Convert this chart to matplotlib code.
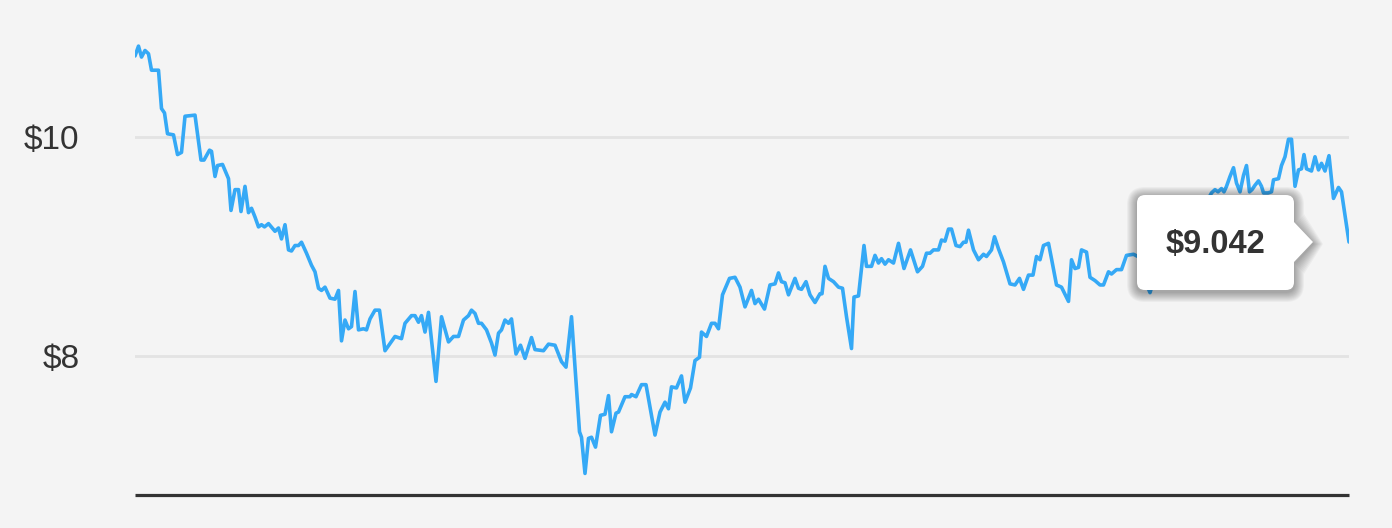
import matplotlib.pyplot as plt
from matplotlib.path import Path
from matplotlib.patches import PathPatch
from matplotlib.transforms import IdentityTransform

plt.rcParams['font.family'] = ['Liberation Sans', 'DejaVu Sans']

# trading day vs closing price
day = [0, 0.7, 1.3, 2.0, 2.7, 3.3, 4.7, 5.3, 5.9, 6.5, 7.7, 8.5, 9.3, 10.0, 12.0,
       13.2, 13.8, 14.9, 15.3, 16.0, 16.5, 17.5, 18.7, 19.2, 20.0, 20.7, 21.2, 22.0,
       22.7, 23.3, 24.0, 24.7, 25.3, 25.9, 26.7, 28.0, 28.7, 29.3, 30.0, 30.7, 31.3,
       32.0, 32.7, 33.3, 34.3, 35.3, 36.0, 36.7, 37.3, 38.0, 39.0, 40.0, 40.7, 41.3,
       42.0, 42.7, 43.3, 44.0, 44.7, 45.7, 46.3, 47.0, 48.0, 48.9, 50.0, 52.0, 53.3,
       54.0, 55.3, 56.0, 56.7, 57.3, 58.0, 58.7, 60.2, 61.3, 62.7, 63.7, 64.7, 65.7,
       66.7, 67.3, 68.0, 68.7, 69.3, 70.3, 71.3, 72.0, 72.7, 73.3, 74.0, 74.7, 75.3,
       76.2, 77.1, 78.0, 79.3, 80.0, 81.7, 82.7, 84.0, 85.3, 86.2, 87.3, 88.9, 89.3,
       90.0, 90.7, 91.3, 92.1, 93.1, 94.0, 94.7, 95.3, 96.2, 96.7, 98.0, 99.0, 99.3,
       100.2, 101.3, 102.2, 104.0, 105.0, 106.0, 106.7, 107.3, 108.3, 109.3, 110.0,
       111.1, 112.0, 112.9, 113.3, 114.3, 115.3, 116.0, 116.7, 117.5, 118.9, 120.0,
       121.0, 122.0, 123.3, 124.0, 124.7, 125.9, 127.0, 128.0, 128.7, 129.3, 130.0,
       130.7, 132.0, 132.7, 133.3, 134.2, 135.0, 136.0, 137.0, 137.4, 138.0, 138.7,
       139.7, 140.7, 141.5, 142.3, 143.3, 143.8, 144.7, 145.8, 146.3, 147.3, 148.0,
       148.7, 149.3, 150.0, 150.7, 151.7, 152.7, 153.8, 155.1, 156.5, 157.5, 158.3,
       159.0, 159.7, 160.7, 161.3, 162.0, 162.7, 163.3, 164.2, 165.0, 165.7, 166.2,
       166.7, 167.7, 168.7, 169.7, 170.3, 171.3, 171.9, 172.7, 173.7, 175.0, 176.0,
       176.9, 177.7, 178.7, 179.6, 180.3, 181.0, 181.7, 182.7, 183.3, 184.3, 185.3,
       186.7, 187.3, 188.0, 188.7, 189.3, 190.3, 191.0, 192.0, 193.0, 193.7, 194.7,
       195.3, 196.3, 197.3, 198.3, 199.7, 201.0, 202.0, 203.0, 204.0, 206.0, 208.0,
       210.0, 212.0, 214.0, 215.3, 216.0, 216.6, 217.3, 217.8, 218.3, 219.0, 219.7,
       220.3, 221.0, 221.7, 222.3, 222.9, 223.4, 224.0, 224.7, 225.3, 225.7, 226.6,
       227.3, 227.7, 228.7, 229.3, 230.0, 230.7, 231.3, 232.0, 232.7, 233.3, 233.8,
       234.3, 235.3, 236.0, 236.7, 237.3, 238.0, 238.8, 239.7, 240.7, 241.3, 242.8]
price = [10.74, 10.83, 10.73, 10.79, 10.76, 10.61, 10.61, 10.26, 10.22, 10.03, 10.02,
         9.84, 9.86, 10.19, 10.20, 9.79, 9.79, 9.88, 9.87, 9.64, 9.74, 9.75, 9.62, 9.33,
         9.52, 9.52, 9.32, 9.55, 9.31, 9.35, 9.27, 9.18, 9.20, 9.18, 9.21, 9.14, 9.17,
         9.07, 9.20, 8.97, 8.96, 9.01, 9.01, 9.04, 8.94, 8.83, 8.77, 8.62, 8.60, 8.63,
         8.53, 8.52, 8.60, 8.14, 8.33, 8.25, 8.27, 8.59, 8.24, 8.25, 8.24, 8.34, 8.42,
         8.42, 8.05, 8.18, 8.16, 8.30, 8.37, 8.37, 8.31, 8.37, 8.22, 8.40, 7.77, 8.36,
         8.13, 8.18, 8.18, 8.33, 8.37, 8.42, 8.39, 8.30, 8.30, 8.24, 8.12, 8.01, 8.21,
         8.24, 8.33, 8.30, 8.34, 8.02, 8.10, 7.98, 8.17, 8.06, 8.05, 8.11, 8.10, 7.95,
         7.90, 8.36, 7.31, 7.26, 6.93, 7.25, 7.26, 7.17, 7.46, 7.47, 7.64, 7.31, 7.48,
         7.49, 7.63, 7.63, 7.65, 7.63, 7.74, 7.74, 7.28, 7.49, 7.58, 7.52, 7.72, 7.71,
         7.82, 7.58, 7.71, 7.96, 7.99, 8.22, 8.18, 8.30, 8.30, 8.25, 8.56, 8.71, 8.72,
         8.63, 8.45, 8.60, 8.48, 8.52, 8.43, 8.65, 8.66, 8.76, 8.68, 8.67, 8.56, 8.71,
         8.62, 8.61, 8.68, 8.56, 8.49, 8.57, 8.57, 8.82, 8.71, 8.68, 8.63, 8.62, 8.36,
         8.07, 8.54, 8.55, 9.01, 8.82, 8.82, 8.92, 8.85, 8.89, 8.84, 8.88, 8.85, 9.03,
         8.80, 8.97, 8.77, 8.82, 8.94, 8.94, 8.97, 8.97, 9.06, 9.05, 9.16, 9.16, 9.01,
         9.00, 9.04, 9.04, 9.15, 8.97, 8.88, 8.93, 8.91, 8.97, 9.09, 8.98, 8.86, 8.66,
         8.65, 8.71, 8.61, 8.74, 8.74, 8.91, 8.88, 9.01, 9.03, 8.89, 8.65, 8.63, 8.50,
         8.88, 8.80, 8.81, 8.97, 8.95, 8.72, 8.69, 8.65, 8.65, 8.77, 8.75, 8.79, 8.79,
         8.92, 8.93, 8.90, 8.69, 8.58, 8.73, 8.86, 8.97, 9.08, 9.20, 9.38, 9.49, 9.52,
         9.50, 9.53, 9.50, 9.55, 9.64, 9.72, 9.58, 9.50, 9.65, 9.74, 9.50, 9.52, 9.56,
         9.60, 9.55, 9.49, 9.49, 9.50, 9.61, 9.62, 9.74, 9.82, 9.98, 9.98, 9.55, 9.70,
         9.71, 9.84, 9.71, 9.69, 9.82, 9.70, 9.76, 9.69, 9.83, 9.44, 9.54, 9.50, 9.042]

ticks = [8, 10]
tick_labels = [r'\$8', r'\$10']
tooltip_text = r'\$9.042'

bg = '#f4f4f4'
fig = plt.figure(figsize=(13.92, 5.28), dpi=100, facecolor=bg)
ax = fig.add_axes([135 / 1392, 33 / 528, 1214 / 1392, 465 / 528])
ax.set_facecolor(bg)

ax.plot(day, price, color='#35a9f6', lw=2.6, solid_joinstyle='round',
        solid_capstyle='round', zorder=3)
ax.set_xlim(day[0], day[-1])
ax.set_ylim(6.733, 10.977)

ax.set_yticks(ticks, tick_labels)
ax.set_xticks([])
ax.grid(axis='y', color='#e3e3e3', lw=2)
ax.set_axisbelow(True)
ax.tick_params(axis='y', length=0, pad=40, labelsize=24, labelcolor='#333333')
for s in ['top', 'right', 'left']:
    ax.spines[s].set_visible(False)
ax.spines['bottom'].set_color('#333333')
ax.spines['bottom'].set_linewidth(2.3)
ax.spines['bottom'].set_capstyle('butt')


def tooltip_path(x0, x1, y0, y1, r, cy, half, tip):
    verts = [(x0 + r, y1), (x1 - r, y1), (x1, y1), (x1, y1 - r),
             (x1, cy + half), (tip, cy), (x1, cy - half), (x1, y0 + r),
             (x1, y0), (x1 - r, y0), (x0 + r, y0), (x0, y0), (x0, y0 + r),
             (x0, y1 - r), (x0, y1), (x0 + r, y1), (x0 + r, y1)]
    codes = [Path.MOVETO, Path.LINETO, Path.CURVE3, Path.CURVE3,
             Path.LINETO, Path.LINETO, Path.LINETO, Path.LINETO,
             Path.CURVE3, Path.CURVE3, Path.LINETO, Path.CURVE3, Path.CURVE3,
             Path.LINETO, Path.CURVE3, Path.CURVE3, Path.CLOSEPOLY]
    return Path(verts, codes)


# tooltip pinned to the last point
px, py = ax.transData.transform((day[-1], price[-1]))
x0, x1, y0, y1 = px - 212, px - 55, py - 48, py + 47
ident = IdentityTransform()

# soft shadow
for k in range(10, 0, -1):
    sh = tooltip_path(x0 - k, x1 + k, y0 - k - 2, y1 + k - 2, 8 + k, py - 2, 20 + k, px - 36 + k)
    ax.add_patch(PathPatch(sh, transform=ident, facecolor='#000000', edgecolor='none',
                           alpha=0.035, clip_on=False, zorder=4))

box = tooltip_path(x0, x1, y0, y1, 8, py, 20, px - 36)
ax.add_patch(PathPatch(box, transform=ident, facecolor='white', edgecolor='none',
                       clip_on=False, zorder=5))
ax.text((x0 + x1) / 2, py - 2, tooltip_text, transform=ident, ha='center', va='center',
        fontsize=23.5, fontweight='bold', color='#333333', zorder=6)

fig.savefig('out.png', dpi=100, facecolor=bg)
